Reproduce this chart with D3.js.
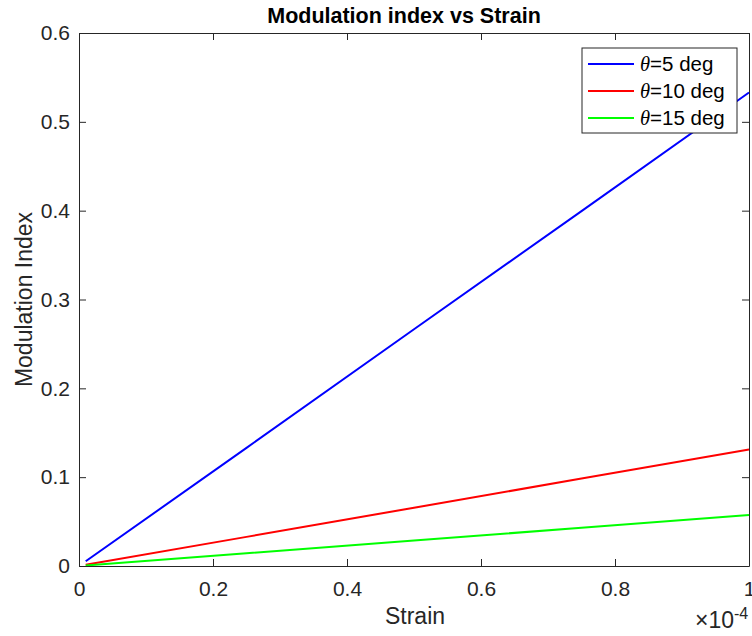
<!DOCTYPE html>
<html>
<head>
<meta charset="utf-8">
<script src="https://cdn.jsdelivr.net/npm/d3@7"></script>
<style>
body { margin: 0; background: #fff; }
text { font-family: "Liberation Sans", Arial, sans-serif; }
</style>
</head>
<body>
<div id="chart"></div>
<script>
// strain in units of 1e-4
var strain = [0.01, 0.25, 0.5, 0.75, 1.0];
var mi5 = [0.0053, 0.1330, 0.2665, 0.3995, 0.5330];
var mi10 = [0.0013, 0.0328, 0.0656, 0.0984, 0.1312];
var mi15 = [0.0006, 0.0143, 0.0287, 0.0430, 0.0573];
var seriesNames = ["=5 deg", "=10 deg", "=15 deg"];
var seriesColors = ["#0000ff", "#ff0000", "#00ff00"];
var xTicks = [0, 0.2, 0.4, 0.6, 0.8, 1];
var yTicks = [0, 0.1, 0.2, 0.3, 0.4, 0.5, 0.6];

var width = 752, height = 636;
var margin = {left: 79, top: 33, right: 3, bottom: 70};
var iw = width - margin.left - margin.right;
var ih = height - margin.top - margin.bottom;

var svg = d3.select("#chart").append("svg")
    .attr("width", width).attr("height", height);

var x = d3.scaleLinear().domain([0, 1]).range([margin.left, margin.left + iw]);
var y = d3.scaleLinear().domain([0, 0.6]).range([margin.top + ih, margin.top]);

var axisColor = "#262626";

// lines
var series = [mi5, mi10, mi15];
var line = d3.line()
    .x(function(d, i) { return x(strain[i]); })
    .y(function(d) { return y(d); });

series.forEach(function(s, k) {
    svg.append("path")
        .datum(s)
        .attr("d", line)
        .attr("fill", "none")
        .attr("stroke", seriesColors[k])
        .attr("stroke-width", 2);
});

// axes
var tickLen = 7;
var xb = svg.append("g").attr("transform", "translate(0," + y(0) + ")")
    .call(d3.axisBottom(x).tickValues(xTicks).tickSizeInner(-tickLen).tickSizeOuter(0).tickPadding(15)
        .tickFormat(function(d) { return d3.format("")(d); }));
var xt = svg.append("g").attr("transform", "translate(0," + y(0.6) + ")")
    .call(d3.axisTop(x).tickValues(xTicks).tickSizeInner(-tickLen).tickSizeOuter(0).tickFormat(""));
var yl = svg.append("g").attr("transform", "translate(" + x(0) + ",0)")
    .call(d3.axisLeft(y).tickValues(yTicks).tickSizeInner(-tickLen).tickSizeOuter(0).tickPadding(9)
        .tickFormat(function(d) { return d3.format("")(d); }));
var yr = svg.append("g").attr("transform", "translate(" + x(1) + ",0)")
    .call(d3.axisRight(y).tickValues(yTicks).tickSizeInner(-tickLen).tickSizeOuter(0).tickFormat(""));

[xb, xt, yl, yr].forEach(function(g) {
    g.select(".domain").attr("stroke", axisColor).attr("stroke-width", 1);
    g.selectAll(".tick line").attr("stroke", axisColor);
    g.selectAll(".tick text").attr("fill", axisColor).style("font-size", "21px")
        .style("font-family", "'Liberation Sans', Arial, sans-serif");
});

// exponent label
var ex = svg.append("text").attr("x", 695).attr("y", 628)
    .attr("fill", axisColor).style("font-size", "23px");
ex.append("tspan").text("\u00d710");
ex.append("tspan").attr("dy", -9).style("font-size", "16px").text("-4");

// title and labels
svg.append("text").attr("x", 404).attr("y", 23)
    .attr("text-anchor", "middle").style("font-size", "21.5px").style("font-weight", "bold")
    .attr("fill", "#000").text("Modulation index vs Strain");

svg.append("text").attr("x", 415).attr("y", 624)
    .attr("text-anchor", "middle").style("font-size", "23px").attr("fill", axisColor)
    .text("Strain");

svg.append("text").attr("transform", "translate(32," + y(0.3) + ") rotate(-90)")
    .attr("text-anchor", "middle").style("font-size", "23px").attr("fill", axisColor)
    .text("Modulation Index");

// legend
var lg = svg.append("g").attr("transform", "translate(582,48)");
lg.append("rect").attr("width", 155).attr("height", 85)
    .attr("fill", "#fff").attr("stroke", axisColor).attr("stroke-width", 1);
seriesNames.forEach(function(n, i) {
    var cy = 16 + i * 27;
    lg.append("line").attr("x1", 6).attr("x2", 52).attr("y1", cy).attr("y2", cy)
        .attr("stroke", seriesColors[i]).attr("stroke-width", 2);
    var t = lg.append("text").attr("x", 58).attr("y", cy + 7)
        .style("font-size", "20.5px").attr("fill", "#000");
    t.append("tspan").style("font-family", "'Liberation Serif', 'Times New Roman', serif")
        .style("font-style", "italic").text("\u03b8");
    t.append("tspan").text(n);
});
</script>
</body>
</html>
